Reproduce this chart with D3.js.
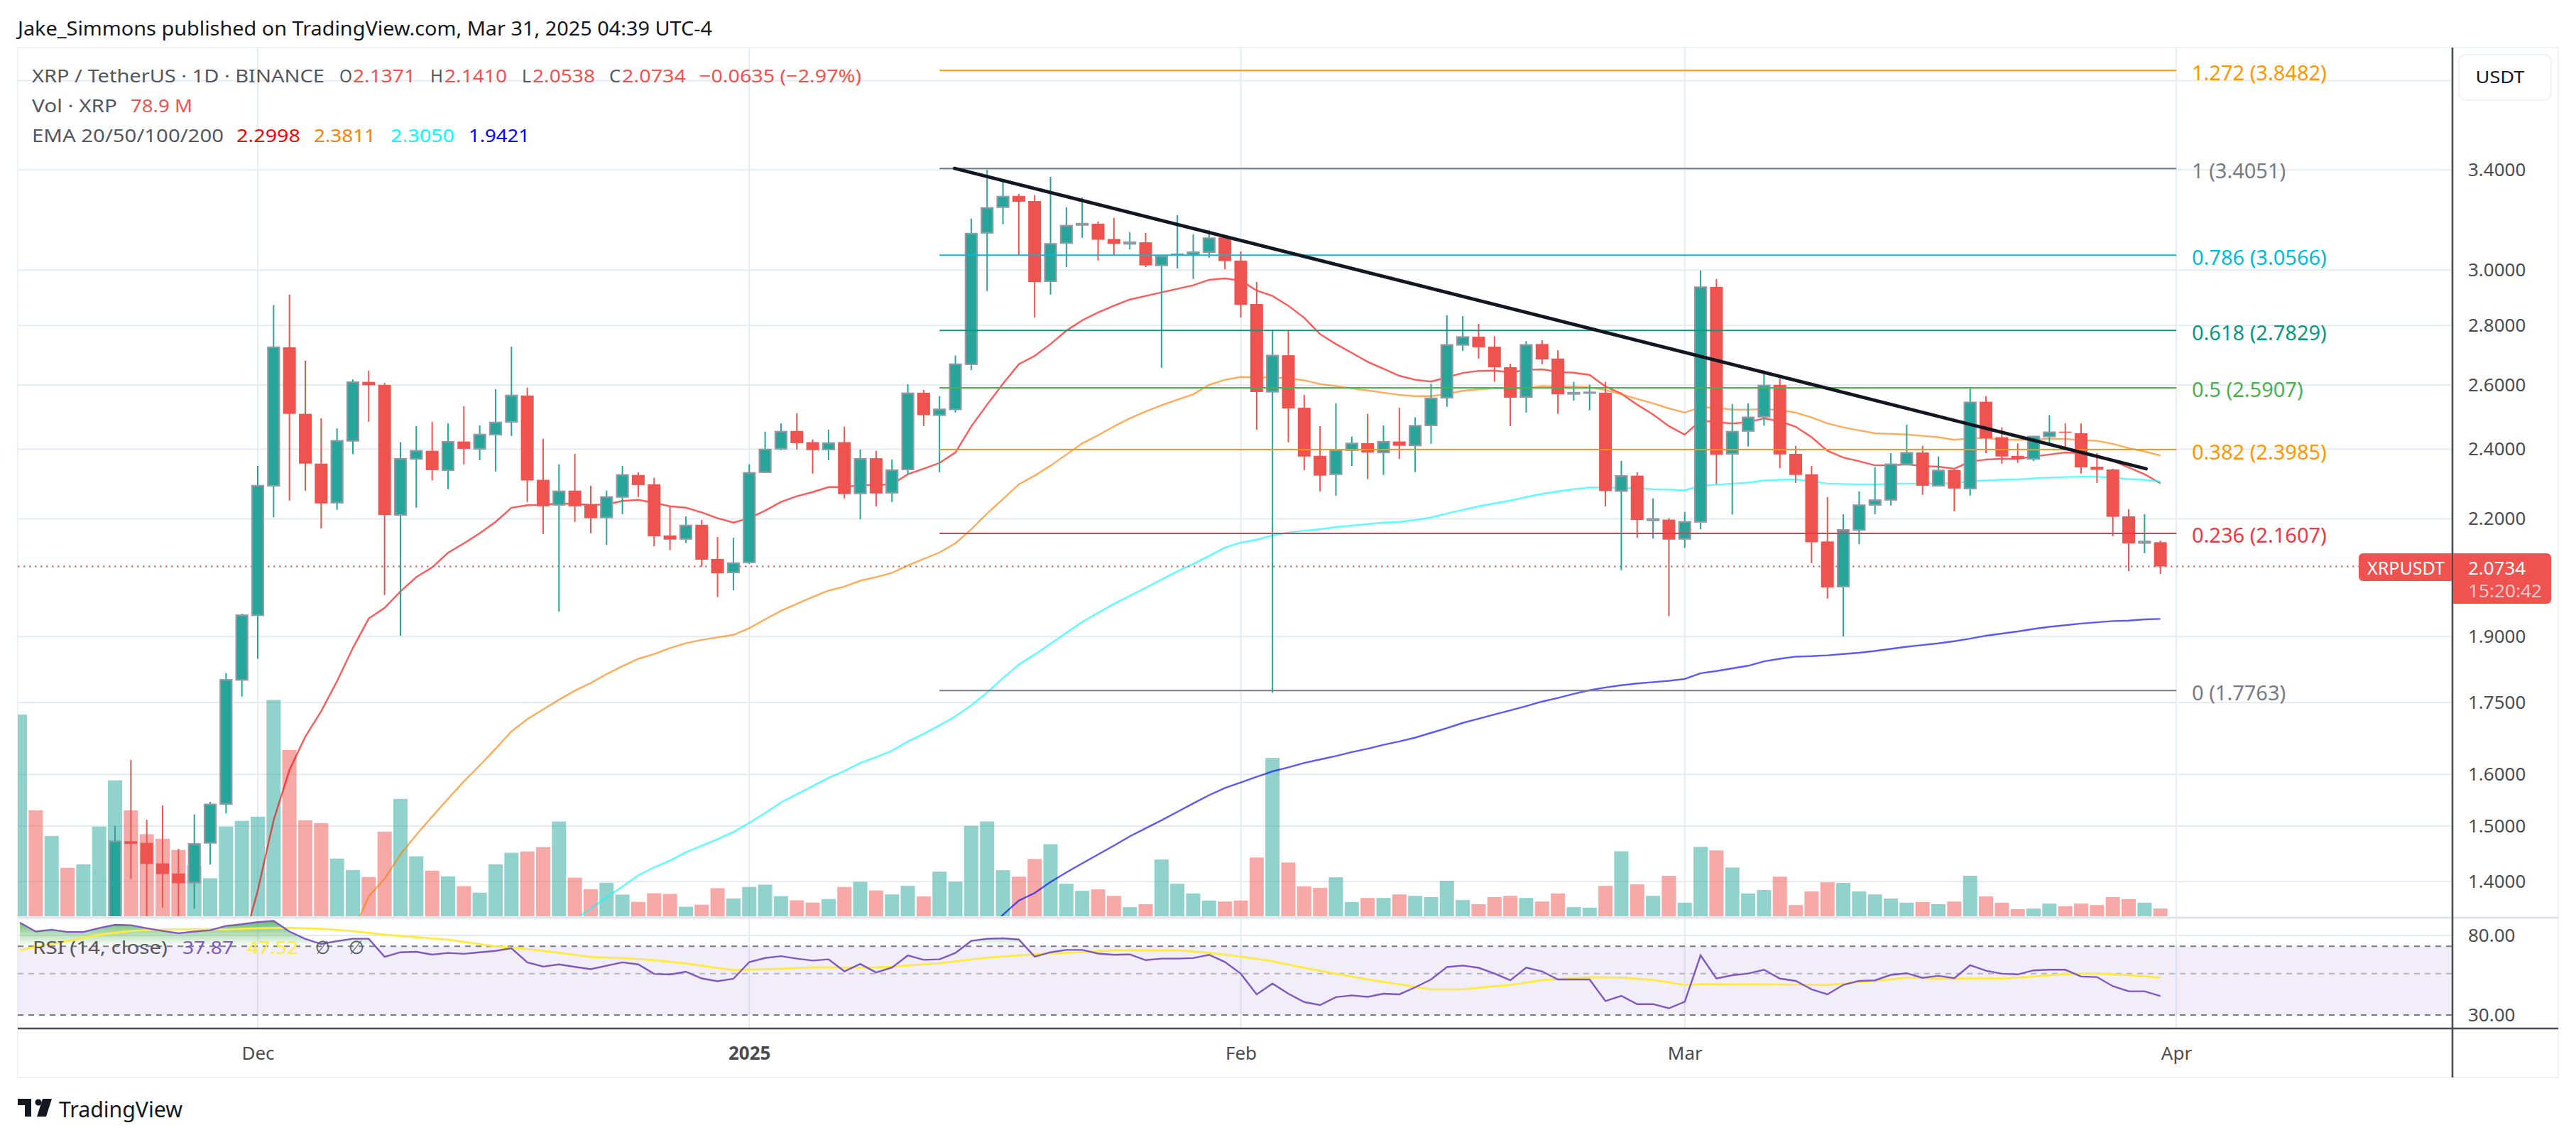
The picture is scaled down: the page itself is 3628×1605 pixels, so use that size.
<!DOCTYPE html>
<html>
<head>
<meta charset="utf-8">
<script src="https://cdnjs.cloudflare.com/ajax/libs/d3/7.8.5/d3.min.js"></script>
<style>
  html, body { margin: 0; background: #fff; }
  text { font-family: "Noto Sans", "DejaVu Sans", sans-serif; }
</style>
</head>
<body>
<script>
// daily bars from Nov 16 2024 to Mar 31 2025, the first 6 are under the visible price range
const opens = [null,null,null,null,null,null,
  1.12,1.472,1.469,1.432,1.414,1.398,1.469,1.542,1.800,
  1.951,2.293,2.725,2.508,2.357,2.245,2.425,2.610,2.600,2.211,
  2.371,2.395,2.338,2.423,2.401,2.444,2.483,2.566,2.310,2.239,
  2.279,2.239,2.204,2.261,2.324,2.297,2.155,2.146,2.184,2.093,
  2.058,2.084,2.332,2.401,2.455,2.421,2.399,2.421,2.271,2.373,
  2.273,2.340,2.575,2.504,2.522,2.668,3.143,3.245,3.291,3.270,
  2.959,3.103,3.174,3.179,3.119,3.100,3.106,3.018,3.058,3.058,
  3.068,3.125,3.036,2.876,2.578,2.698,2.527,2.380,2.326,2.397,
  2.418,2.390,2.423,2.411,2.472,2.559,2.733,2.761,2.727,2.658,
  2.561,2.736,2.687,2.571,2.574,2.575,2.278,2.322,2.196,2.198,
  2.146,2.192,2.938,2.386,2.455,2.499,2.600,2.386,2.326,2.139,
  2.022,2.170,2.239,2.253,2.355,2.390,2.293,2.338,2.285,2.546,
  2.436,2.380,2.371,2.438,2.453,2.448,2.348,2.340,2.207,2.135,2.1371];
const highs = [null,null,null,null,null,null,
  1.500,1.629,1.512,1.539,1.458,1.522,1.546,1.815,1.955,
  2.350,2.872,2.910,2.680,2.494,2.463,2.618,2.647,2.607,2.421,
  2.470,2.483,2.478,2.532,2.472,2.586,2.727,2.591,2.431,2.355,
  2.386,2.293,2.279,2.350,2.332,2.316,2.235,2.207,2.197,2.151,
  2.149,2.355,2.453,2.478,2.510,2.429,2.459,2.468,2.399,2.395,
  2.369,2.602,2.584,2.564,2.697,3.199,3.400,3.352,3.299,3.294,
  3.370,3.245,3.285,3.188,3.202,3.146,3.143,3.055,3.213,3.137,
  3.154,3.131,3.071,2.956,2.786,2.784,2.568,2.470,2.541,2.438,
  2.508,2.472,2.527,2.497,2.604,2.836,2.833,2.806,2.763,2.670,
  2.746,2.749,2.715,2.610,2.601,2.610,2.365,2.332,2.257,2.202,
  2.219,2.999,2.967,2.539,2.541,2.647,2.621,2.410,2.350,2.261,
  2.213,2.277,2.347,2.388,2.474,2.410,2.378,2.339,2.591,2.564,
  2.466,2.417,2.440,2.504,2.478,2.478,2.388,2.342,2.227,2.213,2.1410];
const lows = [null,null,null,null,null,null,
  1.10,1.404,1.32,1.355,1.32,1.353,1.430,1.524,1.763,
  1.848,2.204,2.251,2.279,2.174,2.225,2.385,2.483,2.001,1.902,
  2.231,2.308,2.283,2.355,2.367,2.334,2.440,2.247,2.159,1.960,
  2.192,2.161,2.130,2.213,2.261,2.126,2.116,2.135,2.073,1.996,
  2.013,2.080,2.332,2.397,2.399,2.328,2.367,2.257,2.199,2.235,
  2.247,2.326,2.470,2.332,2.512,2.649,2.923,3.177,3.058,2.828,
  2.910,3.011,3.124,3.036,3.055,3.079,3.011,2.656,3.006,2.967,
  3.047,3.003,2.828,2.459,1.772,2.421,2.338,2.277,2.265,2.350,
  2.312,2.324,2.371,2.332,2.416,2.530,2.713,2.687,2.610,2.470,
  2.512,2.668,2.508,2.550,2.519,2.235,2.064,2.149,2.147,1.949,
  2.122,2.172,2.297,2.212,2.408,2.471,2.344,2.301,2.082,1.992,
  1.900,2.132,2.213,2.237,2.352,2.267,2.293,2.221,2.265,2.388,
  2.357,2.359,2.365,2.414,2.405,2.328,2.301,2.153,2.061,2.108,2.0538];
const closes = [null,null,null,null,null,null,
  1.472,1.467,1.431,1.413,1.397,1.467,1.541,1.800,1.951,
  2.293,2.725,2.508,2.357,2.243,2.425,2.609,2.599,2.211,2.371,
  2.395,2.338,2.422,2.401,2.444,2.481,2.566,2.308,2.235,2.277,
  2.235,2.202,2.261,2.324,2.295,2.153,2.144,2.182,2.091,2.056,
  2.082,2.330,2.399,2.453,2.418,2.397,2.418,2.269,2.371,2.271,
  2.338,2.573,2.504,2.522,2.668,3.140,3.242,3.288,3.267,2.956,
  3.100,3.171,3.179,3.116,3.100,3.106,3.018,3.052,3.060,3.068,
  3.122,3.034,2.873,2.577,2.697,2.525,2.378,2.322,2.397,2.417,
  2.390,2.422,2.410,2.471,2.557,2.733,2.760,2.725,2.658,2.559,
  2.733,2.684,2.570,2.575,2.576,2.278,2.321,2.197,2.200,2.144,
  2.192,2.937,2.383,2.453,2.497,2.598,2.384,2.324,2.137,2.020,
  2.170,2.238,2.252,2.355,2.389,2.293,2.337,2.285,2.544,2.433,
  2.378,2.371,2.438,2.451,2.450,2.346,2.339,2.206,2.134,2.139,2.0734];
// volume in millions of XRP
const volumes = [2048,1076,816,492,528,910,1380,1076,833,787,674,515,386,910,969,
  1011,2197,1688,975,946,586,470,399,859,1192,609,463,405,305,240,528,645,658,703,962,
  392,275,340,220,146,233,227,97,117,285,181,298,321,204,162,139,175,298,350,262,
  222,309,201,453,351,918,963,468,402,582,732,330,258,273,207,93,123,576,330,231,159,150,
  159,597,1608,546,303,288,396,144,186,186,222,207,195,360,165,123,195,207,186,150,231,93,87,
  309,660,324,207,411,138,705,669,495,231,267,402,114,252,345,339,252,222,180,138,144,123,150,
  411,201,138,72,78,129,102,129,114,195,174,138,78.9];
const firstVolUp = [true,false,true,false,true,true]; // colour of the bars with no visible candle

// EMA values, one a day, each list starts at the day given next to it (day 0 = Dec 1)
const ema20Start = -1;
const ema20 = [1.288,1.384,1.511,1.609,1.677,1.731,1.797,1.873,1.943,1.969,2.010,2.046,2.071,2.109,2.134,2.161,2.192,
  2.231,2.238,2.239,2.243,2.241,2.239,2.240,2.250,2.253,2.245,2.235,2.231,2.218,2.202,2.190,2.202,2.223,2.247,2.263,2.275,
  2.289,2.289,2.295,2.295,2.297,2.326,2.342,2.359,2.390,2.469,2.537,2.604,2.668,2.696,2.736,2.782,2.818,2.846,2.870,2.892,
  2.905,2.918,2.931,2.944,2.964,2.969,2.961,2.925,2.905,2.870,2.827,2.770,2.736,2.706,2.676,2.653,2.630,2.617,2.611,2.625,
  2.639,2.646,2.647,2.641,2.649,2.651,2.643,2.640,2.633,2.595,2.572,2.537,2.506,2.470,2.444,2.487,2.482,2.478,2.482,2.494,
  2.485,2.468,2.436,2.395,2.375,2.364,2.352,2.352,2.355,2.350,2.348,2.342,2.363,2.369,2.371,2.371,2.378,2.384,2.390,2.388,
  2.380,2.365,2.346,2.326,2.2998];
const ema50Start = 6;
const ema50 = [1.315,1.374,1.405,1.448,1.484,1.518,1.552,1.586,1.618,1.652,1.688,1.714,1.735,1.756,1.776,1.793,1.813,1.831,
  1.848,1.859,1.873,1.884,1.892,1.898,1.904,1.920,1.941,1.962,1.979,1.996,2.012,2.022,2.037,2.046,2.057,2.076,2.093,2.110,
  2.134,2.172,2.215,2.255,2.297,2.322,2.351,2.384,2.417,2.442,2.469,2.494,2.515,2.535,2.553,2.570,2.600,2.617,2.626,2.625,
  2.624,2.622,2.615,2.603,2.596,2.589,2.582,2.575,2.568,2.564,2.564,2.571,2.581,2.586,2.589,2.589,2.589,2.596,2.594,2.594,
  2.592,2.584,2.570,2.555,2.541,2.525,2.512,2.529,2.527,2.521,2.521,2.523,2.520,2.512,2.497,2.478,2.466,2.457,2.448,2.446,
  2.444,2.440,2.436,2.428,2.433,2.433,2.429,2.428,2.429,2.431,2.431,2.427,2.425,2.416,2.403,2.393,2.3811];
const ema100Start = 20;
const ema100 = [1.336,1.353,1.373,1.391,1.411,1.425,1.437,1.452,1.464,1.476,1.489,1.506,1.525,1.545,1.561,1.577,1.593,1.607,
  1.623,1.635,1.648,1.667,1.683,1.701,1.720,1.744,1.772,1.804,1.835,1.858,1.883,1.909,1.935,1.957,1.979,1.999,2.019,2.040,
  2.061,2.080,2.101,2.123,2.136,2.144,2.155,2.163,2.168,2.172,2.178,2.182,2.186,2.190,2.192,2.197,2.204,2.215,2.225,2.235,
  2.243,2.251,2.261,2.270,2.277,2.283,2.288,2.288,2.287,2.286,2.283,2.282,2.280,2.293,2.296,2.299,2.302,2.308,2.310,2.311,
  2.306,2.299,2.298,2.297,2.297,2.298,2.299,2.299,2.299,2.301,2.306,2.308,2.310,2.311,2.314,2.316,2.318,2.319,2.319,2.316,
  2.312,2.310,2.3050];
const ema200Start = 46;
const ema200 = [1.317,1.343,1.367,1.380,1.399,1.416,1.432,1.448,1.464,1.481,1.496,1.511,1.527,1.543,1.559,1.573,1.584,1.595,
  1.606,1.614,1.623,1.630,1.637,1.645,1.652,1.660,1.667,1.675,1.685,1.695,1.706,1.715,1.724,1.733,1.742,1.752,1.760,1.769,
  1.777,1.783,1.788,1.792,1.795,1.798,1.802,1.815,1.820,1.826,1.832,1.842,1.848,1.853,1.854,1.856,1.859,1.862,1.866,1.871,
  1.876,1.880,1.884,1.889,1.895,1.902,1.907,1.912,1.918,1.923,1.927,1.931,1.934,1.937,1.938,1.941,1.9421];

// RSI 14, one a day from Nov 16
const rsi = [93.6,83.9,85.9,83.5,83.5,87.6,91.2,90.7,87.4,84.6,82.2,83.9,85.3,89.9,91.8,
  94.4,95.7,83.9,76.6,72.0,74.6,76.8,76.8,61.5,65.0,65.4,63.2,64.5,63.8,65.0,66.1,68.3,57.4,54.5,56.0,54.3,52.8,55.1,57.4,56.0,49.8,49.4,51.2,47.1,45.5,46.9,
  57.6,60.6,62.0,60.1,58.7,59.6,51.4,56.3,50.7,53.9,62.5,59.2,59.6,64.5,74.8,76.7,77.2,76.1,61.6,65.0,66.9,66.9,64.0,63.0,63.3,59.0,60.1,60.1,60.5,63.0,57.7,
  49.9,38.7,44.2,39.0,35.2,33.9,37.4,38.2,37.5,39.0,38.7,42.2,46.5,54.2,55.2,53.7,50.0,46.0,53.8,51.4,46.5,46.5,46.5,35.6,38.0,34.3,34.3,32.6,
  35.3,62.6,47.0,49.0,50.0,52.4,47.0,45.7,41.2,38.7,43.5,45.7,46.0,49.2,50.2,47.4,48.6,47.2,55.4,51.8,49.9,49.5,52.0,52.4,52.4,48.2,47.9,42.8,40.2,40.2,37.87];
// RSI moving average, read at the days listed
const rsiMaDays = [-15,-14,-12,-10,-8,-6,-4,-2,0,2,4,6,8,12,15,17,19,21,23,25,27,29,30,31,33,35,37,39,40,43,46,48,50,52,54,56,58,60,62,64,66,68,70,72,74,76,78,79,81,83,84,86,88,89,90,91,93,95,97,99,101,103,104,106,108,110,112,114,116,118,120];
const rsiMa = [66.6,69.6,74.6,80.7,84.6,86.1,86.4,86.1,87.4,87.9,86.8,84.4,80.7,76.0,69.9,67.6,64.6,61.3,60.5,58.9,56.6,53.5,52.1,52.5,53.1,54.0,53.9,54.0,54.4,56.8,60.8,62.6,63.9,65.2,66.6,66.6,66.6,64.6,61.6,58.2,53.7,49.9,46.5,43.8,41.2,41.2,42.8,43.4,46.1,47.3,47.8,47.6,46.1,44.9,43.4,43.9,43.8,43.8,43.6,43.4,45.0,46.5,47.6,46.9,47.0,47.0,48.2,49.7,50.0,49.0,47.52];

// fib retracement
const fibRatios = ["1.272","1","0.786","0.618","0.5","0.382","0.236","0"];
const fibPrices = [3.8482,3.4051,3.0566,2.7829,2.5907,2.3985,2.1607,1.7763];
const fibColors = ["#ff9800","#787b86","#00bcd4","#089981","#4caf50","#ff9800","#f23645","#787b86"];
const fibFrom = 43, fibTo = 121;

// hand drawn trend line
const trendDays = [43.95,119.1];
const trendPrices = [3.406,2.342];

const priceTicks = [3.4,3.0,2.8,2.6,2.4,2.2,1.9,1.75,1.6,1.5,1.4];
const priceGrid = [3.8].concat(priceTicks);
const rsiTicks = [80,30];
const monthDates = [new Date(Date.UTC(2024,11,1)),new Date(Date.UTC(2025,0,1)),new Date(Date.UTC(2025,1,1)),new Date(Date.UTC(2025,2,1)),new Date(Date.UTC(2025,3,1))];
const monthLabels = ["Dec","2025","Feb","Mar","Apr"];
const lastPrice = 2.0734;

const UP = "#26a69a", DOWN = "#ef5350", GRID = "#e4ecf2", AXIS = "#4a4c52", LABEL = "#55575e";
const plotLeft = 25, plotRight = 3454, frameRight = 3603, plotTop = 67, frameBottom = 1517;
const paneBottom = 1290, rsiBottom = 1448;

const svg = d3.select("body").append("svg").attr("width",3628).attr("height",1605).style("display","block");
const defs = svg.append("defs");

const x = d3.scaleUtc().domain([monthDates[0],monthDates[4]]).range([363,3065]);
const yPrice = d3.scaleLog().domain([3.4,1.4]).range([239,1241]);
const yVol = d3.scaleLinear().domain([0,2200]).range([paneBottom,985]);
const yRsi = d3.scaleLog().domain([80,30]).range([1317,1429]);
const dayX = d => x(new Date(Date.UTC(2024,11,1) + d*864e5));
const idxDay = i => i - 15;

defs.append("clipPath").attr("id","pricePane").append("rect")
  .attr("x",plotLeft).attr("y",plotTop).attr("width",plotRight-plotLeft).attr("height",paneBottom-plotTop);
defs.append("clipPath").attr("id","overbought").append("rect")
  .attr("x",plotLeft).attr("y",paneBottom).attr("width",plotRight-plotLeft).attr("height",yRsi(70)-paneBottom);
const grad = defs.append("linearGradient").attr("id","obFill").attr("gradientUnits","userSpaceOnUse")
  .attr("x1",0).attr("x2",0).attr("y1",1296).attr("y2",yRsi(70));
grad.append("stop").attr("offset",0).attr("stop-color","#4caf50").attr("stop-opacity",.85);
grad.append("stop").attr("offset",1).attr("stop-color","#4caf50").attr("stop-opacity",0);

// frame
svg.append("rect").attr("x",plotLeft).attr("y",plotTop).attr("width",frameRight-plotLeft).attr("height",frameBottom-plotTop)
  .attr("fill","none").attr("stroke","#f0f3f6").attr("stroke-width",2);

// grid
svg.append("g").selectAll("line").data(priceGrid).join("line")
  .attr("x1",plotLeft).attr("x2",plotRight).attr("y1",d=>yPrice(d)).attr("y2",d=>yPrice(d))
  .attr("stroke",GRID).attr("stroke-width",2);
svg.append("g").selectAll("line").data(monthDates).join("line")
  .attr("x1",d=>x(d)).attr("x2",d=>x(d)).attr("y1",plotTop).attr("y2",rsiBottom)
  .attr("stroke",GRID).attr("stroke-width",2);
svg.append("line").attr("x1",plotLeft).attr("x2",plotRight).attr("y1",yRsi(80)).attr("y2",yRsi(80)).attr("stroke",GRID).attr("stroke-width",2);
svg.append("line").attr("x1",plotLeft).attr("x2",frameRight).attr("y1",paneBottom+2).attr("y2",paneBottom+2).attr("stroke","#e0e3eb").attr("stroke-width",3);

const price = svg.append("g").attr("clip-path","url(#pricePane)");

// volume
price.append("g").selectAll("rect").data(volumes).join("rect")
  .attr("x",(d,i)=>dayX(idxDay(i))-10).attr("width",20)
  .attr("y",d=>yVol(d)).attr("height",d=>paneBottom-yVol(d))
  .attr("fill",(d,i)=>{
    const up = closes[i]===null ? firstVolUp[i] : closes[i]>=opens[i];
    return up ? UP : DOWN;
  }).attr("fill-opacity",.5);

// EMAs
const priceLine = d3.line().x(d=>dayX(d[0])).y(d=>yPrice(d[1]));
[[ema20,ema20Start,"#ff0000"],[ema50,ema50Start,"#ff7f00"],[ema100,ema100Start,"#00ffff"],[ema200,ema200Start,"#0000ff"]].forEach(e=>{
  price.append("path").datum(e[0].map((v,i)=>[e[1]+i,v])).attr("d",priceLine)
    .attr("fill","none").attr("stroke",e[2]).attr("stroke-opacity",.65).attr("stroke-width",2.4);
});

// fib levels
svg.append("g").selectAll("line").data(fibPrices).join("line")
  .attr("x1",dayX(fibFrom)).attr("x2",dayX(fibTo))
  .attr("y1",d=>yPrice(d)).attr("y2",d=>yPrice(d))
  .attr("stroke",(d,i)=>fibColors[i]).attr("stroke-width",2);
svg.append("g").selectAll("text").data(fibPrices).join("text")
  .attr("x",3087).attr("y",d=>yPrice(d)+2).attr("dominant-baseline","central")
  .attr("font-size",29).attr("fill",(d,i)=>fibColors[i])
  .text((d,i)=>fibRatios[i]+" ("+d.toFixed(4)+")");

// last price dotted line
price.append("line").attr("x1",plotLeft).attr("x2",plotRight).attr("y1",yPrice(lastPrice)).attr("y2",yPrice(lastPrice))
  .attr("stroke",DOWN).attr("stroke-width",2.2).attr("stroke-dasharray","2.5 5.5");

// trend line
svg.append("path").datum(trendDays.map((d,i)=>[d,trendPrices[i]])).attr("d",priceLine)
  .attr("fill","none").attr("stroke","#131722").attr("stroke-width",4.8).attr("stroke-linecap","round");

// candles
const bars = opens.map((o,i)=>({day:idxDay(i),o:o,h:highs[i],l:lows[i],c:closes[i]})).filter(b=>b.o!==null);
price.append("g").selectAll("line").data(bars).join("line")
  .attr("x1",d=>dayX(d.day)).attr("x2",d=>dayX(d.day))
  .attr("y1",d=>yPrice(d.h)).attr("y2",d=>yPrice(d.l))
  .attr("stroke",d=>d.c>=d.o?UP:DOWN).attr("stroke-width",2);
price.append("g").selectAll("rect").data(bars).join("rect")
  .attr("x",d=>dayX(d.day)-(d.c>=d.o?8:9)).attr("width",d=>d.c>=d.o?16:18)
  .attr("y",d=>yPrice(Math.max(d.o,d.c)))
  .attr("height",d=>Math.max(1,yPrice(Math.min(d.o,d.c))-yPrice(Math.max(d.o,d.c))))
  .attr("fill",d=>d.c>=d.o?UP:DOWN)
  .attr("stroke",d=>d.c>=d.o?"#9298a4":"none").attr("stroke-width",2.2);

// RSI pane
svg.append("rect").attr("x",plotLeft).attr("width",plotRight-plotLeft).attr("y",yRsi(70)).attr("height",yRsi(30)-yRsi(70)).attr("fill","#7e57c2").attr("fill-opacity",.1);
[[70,"#787b86"],[50,"#b6b4c0"],[30,"#787b86"]].forEach(l=>{
  svg.append("line").attr("x1",plotLeft).attr("x2",plotRight).attr("y1",yRsi(l[0])).attr("y2",yRsi(l[0]))
    .attr("stroke",l[1]).attr("stroke-width",2).attr("stroke-dasharray","8 7");
});
const rsiPts = rsi.map((v,i)=>[idxDay(i),v]);
svg.append("path").datum(rsiPts).attr("clip-path","url(#overbought)")
  .attr("d",d3.area().x(d=>dayX(d[0])).y0(yRsi(70)).y1(d=>yRsi(d[1])))
  .attr("fill","url(#obFill)");
const rsiLine = d3.line().x(d=>dayX(d[0])).y(d=>yRsi(d[1]));
svg.append("path").datum(rsiMaDays.map((d,i)=>[d,rsiMa[i]])).attr("d",rsiLine)
  .attr("fill","none").attr("stroke","#ffeb3b").attr("stroke-width",2.8);
svg.append("path").datum(rsiPts).attr("d",rsiLine)
  .attr("fill","none").attr("stroke","#7e57c2").attr("stroke-width",2.4);

// axes
const styleAxis = g => {
  g.select(".domain").remove();
  g.selectAll(".tick line").remove();
  g.selectAll("text").attr("font-size",26).attr("fill",AXIS).style("font-family",'"Noto Sans"');
};
svg.append("g").attr("transform","translate("+plotRight+",0)")
  .call(d3.axisRight(yPrice).tickValues(priceTicks).tickFormat(d3.format(".4f")).tickSize(0).tickPadding(22)).call(styleAxis);
svg.append("g").attr("transform","translate("+plotRight+",0)")
  .call(d3.axisRight(yRsi).tickValues(rsiTicks).tickFormat(d3.format(".2f")).tickSize(0).tickPadding(22)).call(styleAxis);
const timeAxis = svg.append("g").attr("transform","translate(0,"+rsiBottom+")")
  .call(d3.axisBottom(x).tickValues(monthDates).tickFormat((d,i)=>monthLabels[i]).tickSize(0).tickPadding(26)).call(styleAxis);
timeAxis.selectAll("text").filter((d,i)=>monthLabels[i]==="2025").attr("font-weight",700);

svg.append("line").attr("x1",plotLeft).attr("x2",frameRight).attr("y1",rsiBottom).attr("y2",rsiBottom).attr("stroke",AXIS).attr("stroke-width",2.6);
svg.append("line").attr("x1",plotRight).attr("x2",plotRight).attr("y1",plotTop).attr("y2",frameBottom).attr("stroke",AXIS).attr("stroke-width",2.6);

// text helper, width keeps the runs aligned with the picture
const label = (s,px,py,size,fill,width,anchor) => {
  const t = svg.append("text").attr("x",px).attr("y",py).attr("dominant-baseline","central")
    .attr("font-size",size).attr("fill",fill).text(s);
  if (width) t.attr("textLength",width).attr("lengthAdjust","spacingAndGlyphs");
  if (anchor) t.attr("text-anchor",anchor);
  return t;
};

label("Jake_Simmons published on TradingView.com, Mar 31, 2025 04:39 UTC-4",25,39,27,"#131722",978);

label("XRP / TetherUS · 1D · BINANCE",45,106,26,LABEL,412);
label("O",478,106,26,LABEL,18);
label("2.1371",497,106,26,DOWN,88);
label("H",606,106,26,LABEL,18);
label("2.1410",626,106,26,DOWN,88);
label("L",735,106,26,LABEL,13);
label("2.0538",750,106,26,DOWN,88);
label("C",858,106,26,LABEL,16);
label("2.0734",876,106,26,DOWN,90);
label("−0.0635 (−2.97%)",985,106,26,DOWN,228);

label("Vol · XRP",45,147.5,26,LABEL,120);
label("78.9 M",184,147.5,26,DOWN,87);

label("EMA 20/50/100/200",45,190,26,LABEL,270);
label("2.2998",333,190,26,"#ff0000",90);
label("2.3811",442,190,26,"#ff7f00",87);
label("2.3050",550,190,26,"#00ffff",90);
label("1.9421",660,190,26,"#0000ff",86);

label("RSI (14, close)",46,1333,26,LABEL,190);
label("37.87",257,1333,26,"#7e57c2",72);
label("47.52",348,1333,26,"#ffeb3b",72);
label("∅",444,1333,26,LABEL,21);
label("∅",491,1333,26,LABEL,22);

// price labels on the axis
const priceY = yPrice(lastPrice);
svg.append("path").attr("d","M3328 779H3453V818H3328a6 6 0 0 1-6-6V785a6 6 0 0 1 6-6z").attr("fill",DOWN);
svg.append("path").attr("d","M3455 779H3587a6 6 0 0 1 6 6V844a6 6 0 0 1-6 6H3455z").attr("fill",DOWN);
label("XRPUSDT",3334,priceY+1,26,"#fff",109);
label(d3.format(".4f")(lastPrice),3476,priceY+1,26,"#fff",81);
label("15:20:42",3476,831,26,"#fbc9c8",104);

svg.append("rect").attr("x",3463).attr("y",77).attr("width",130).attr("height",64).attr("rx",10)
  .attr("fill","#fff").attr("stroke","#f0f3f6").attr("stroke-width",2);
label("USDT",3521,107,24,"#131722",69,"middle");

// TradingView mark
svg.append("path")
  .attr("d","M25 1547H44V1572H35V1556H25ZM60 1547H73L65 1572H52ZM54 1556.5a4.5 4.5 0 1 0 0-9 4.5 4.5 0 0 0 0 9Z").attr("fill","#131722");
label("TradingView",83,1561,31,"#131722",174);
</script>
</body>
</html>
